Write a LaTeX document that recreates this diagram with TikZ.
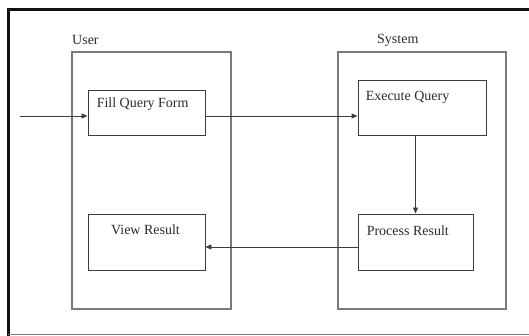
\documentclass[tikz,border=0pt]{standalone}
\usepackage{fontspec}
\setmainfont{Liberation Serif}
\usetikzlibrary{arrows.meta, positioning, calc}
\definecolor{frameline}{HTML}{111111}
\definecolor{laneline}{HTML}{7A7A7A}
\definecolor{boxline}{HTML}{3C3C3C}
\definecolor{inktext}{HTML}{2A2A33}

\begin{document}
\begin{tikzpicture}[
  x=1pt, y=1pt,
  lane/.style={draw=laneline, line width=1.2pt, minimum width=#1, minimum height=257pt,
               inner sep=0pt},
  task/.style={draw=boxline, line width=0.9pt, inner sep=0pt},
  lbl/.style={font=\fontsize{14}{16}\selectfont, text=inktext, inner sep=0pt},
  arr/.style={-{Triangle[length=6pt, width=5pt]}, line width=0.9pt, color=boxline}
]
  \useasboundingbox (0,0) rectangle (529,336);

  % page frame, cut off on the right
  \draw[frameline, line width=3pt] (8,0) -- (8,326) -- (529,326);
  \draw[laneline, line width=1pt] (8,1) -- (529,1);

  % swim lanes
  \node[lane=159pt] (user) at (151.5,155.5) {};
  \node[lane=168pt] (system) at (422,155.5) {};
  \node[lbl, anchor=base west] (userlbl) at (72,291) {User};
  \node[lbl, anchor=base west] (syslbl) at (377,292) {System};

  % activities
  \node[task, minimum width=117pt, minimum height=45pt] (fill) at (146.5,223.5) {};
  \node[task, minimum width=128pt, minimum height=55pt] (exec) at (422,228.5) {};
  \node[task, minimum width=117pt, minimum height=56pt] (view) at (146.5,94) {};
  \node[task, minimum width=115pt, minimum height=56pt] (proc) at (415.5,94) {};

  \node[lbl, anchor=base west] (filltxt) at ($(fill.north west)+(9,-18)$) {Fill Query Form};
  \node[lbl, anchor=base west] (exectxt) at ($(exec.north west)+(8,-21)$) {Execute Query};
  \node[lbl, anchor=base] (viewtxt) at ($(view.north)+(-1,-21)$) {View Result};
  \node[lbl, anchor=base west] (proctxt) at ($(proc.north west)+(9,-22)$) {Process Result};

  % flow
  \coordinate (start) at (20,220);
  \draw[arr] (start) -- (start -| fill.west);
  \draw[arr] (start -| fill.east) -- (start -| exec.west);
  \draw[arr] (exec.south -| proc.north) -- (proc.north);
  \draw[arr] ([yshift=-5pt]proc.west) -- ([yshift=-5pt]view.east);
\end{tikzpicture}
\end{document}
